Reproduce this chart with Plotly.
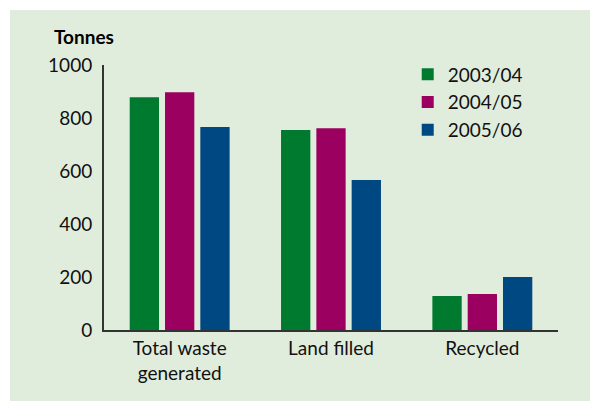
import plotly.graph_objects as go

# data
categories = ['Total waste<br>generated', 'Land filled', 'Recycled']
years = ['2003/04', '2004/05', '2005/06']
values_0304 = [878, 755, 128]
values_0405 = [897, 761, 136]
values_0506 = [766, 566, 200]
colours = ['#007a2f', '#9b0060', '#004882']

FONT = 'Lato'
W, H = 590, 401
L, R, T, B = 104, 32, 65, 71

fig = go.Figure()
for name, vals, col in zip(years, [values_0304, values_0405, values_0506], colours):
    fig.add_trace(go.Bar(x=categories, y=vals, name=name,
                         marker=dict(color=col, line=dict(width=0))))

# white strips along the top and left of the green panel
pw = W - L - R
ph = H - T - B
x_left, x_right = -L / pw, (W - L) / pw
y_bottom, y_top = -B / ph, (H - B) / ph
fig.add_shape(type='rect', xref='paper', yref='paper', layer='below',
              x0=x_left, x1=x_right, y0=(H - B - 10) / ph, y1=y_top,
              fillcolor='white', line=dict(width=0))
fig.add_shape(type='rect', xref='paper', yref='paper', layer='below',
              x0=x_left, x1=(10 - L) / pw, y0=y_bottom, y1=y_top,
              fillcolor='white', line=dict(width=0))

fig.update_layout(
    width=W, height=H,
    margin=dict(l=L, r=R, t=T, b=B, autoexpand=False),
    paper_bgcolor='#e1eddc',
    plot_bgcolor='rgba(0,0,0,0)',
    barmode='group',
    bargap=0.3,
    bargroupgap=0.17,
    font=dict(family=FONT, size=19, color='#111111'),
    showlegend=True,
    legend=dict(x=0.669, y=1.036, xanchor='left', yanchor='top',
                bgcolor='rgba(0,0,0,0)', font=dict(size=19)),
    annotations=[dict(text='<b>Tonnes</b>', xref='paper', yref='paper',
                      x=(52 - L) / pw, y=(H - B - 36) / ph,
                      xanchor='left', yanchor='middle', showarrow=False,
                      font=dict(size=19, color='black'))],
)
fig.update_xaxes(showline=True, linecolor='#333333', linewidth=2, automargin=False,
                 ticks='', showgrid=False, zeroline=False)
fig.update_yaxes(range=[0, 1000], dtick=200, showline=True, linecolor='#333333',
                 linewidth=2, ticks='', showgrid=False, zeroline=False,
                 automargin=False, ticklabelstandoff=6)

# drop the default page margin so the figure sits at the window corner
fig.write_html('out.html', config={'displayModeBar': False},
               post_script="document.body.style.margin='0';"
                           "document.body.style.overflow='hidden';")
